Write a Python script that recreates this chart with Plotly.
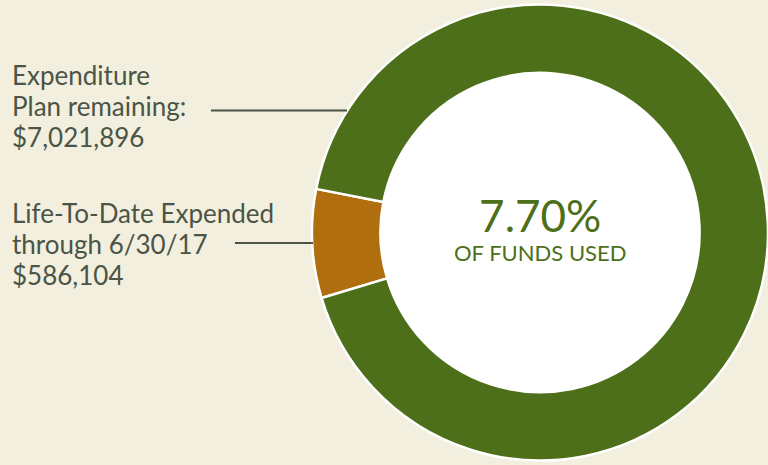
import plotly.graph_objects as go

# Funding split
categories = ["Life-To-Date Expended", "Expenditure Plan remaining"]
amounts = [586104, 7021896]
slice_colors = ["#b06e0e", "#4e6f1a"]

W, H = 768, 465
BG = "#f2efde"
TEXT = "#4b5446"
GREEN = "#4e6f1a"
FONT = "Lato"

# donut geometry in pixels
cx, cy, r_out, hole = 540, 232.5, 228, 0.70
r_in = r_out * hole

total = sum(amounts)
pct_used = amounts[0] / total * 100

fig = go.Figure(go.Pie(
    labels=categories,
    values=amounts,
    sort=False,
    direction="clockwise",
    rotation=253.3,
    hole=hole,
    marker=dict(colors=slice_colors, line=dict(color="white", width=2.5)),
    textinfo="none",
    hoverinfo="label+value+percent",
    domain=dict(x=[(cx - r_out) / W, (cx + r_out) / W],
                y=[(H - cy - r_out) / H, (H - cy + r_out) / H]),
    showlegend=False,
))

# white fill inside the ring
fig.add_shape(type="circle", xref="paper", yref="paper", layer="below",
              x0=(cx - r_in) / W, x1=(cx + r_in) / W,
              y0=(H - cy - r_in) / H, y1=(H - cy + r_in) / H,
              fillcolor="white", line=dict(width=0))

def px(x):
    return x / W

def py(y):
    return 1 - y / H

# leader lines
fig.add_shape(type="line", xref="paper", yref="paper",
              x0=px(211), x1=px(347), y0=py(110.5), y1=py(110.5),
              line=dict(color=TEXT, width=2))
fig.add_shape(type="line", xref="paper", yref="paper",
              x0=px(235), x1=px(313), y0=py(243), y1=py(243),
              line=dict(color=TEXT, width=2))

# side labels, one line per annotation for tight line spacing
label_blocks = [
    (["Expenditure", "Plan remaining:", f"${amounts[1]:,}"], 75),
    (["Life-To-Date Expended", "through 6/30/17", f"${amounts[0]:,}"], 213),
]
line_gap = 31
for lines, y_first in label_blocks:
    for i, line in enumerate(lines):
        fig.add_annotation(
            x=px(10), y=py(y_first + i * line_gap), xref="paper", yref="paper",
            xanchor="left", yanchor="middle", align="left", showarrow=False,
            text=line,
            font=dict(family=FONT, size=26, color=TEXT),
        )

# centre label
fig.add_annotation(
    x=px(cx), y=py(227), xref="paper", yref="paper",
    xanchor="center", yanchor="middle", showarrow=False, align="center",
    text=f"<span style='font-size:44px'>{pct_used:.2f}%</span><br>OF FUNDS USED",
    font=dict(family=FONT, size=22, color=GREEN),
)

fig.update_layout(
    width=W, height=H,
    margin=dict(l=0, r=0, t=0, b=0),
    paper_bgcolor=BG, plot_bgcolor=BG,
)

fig.write_html("out.html")
